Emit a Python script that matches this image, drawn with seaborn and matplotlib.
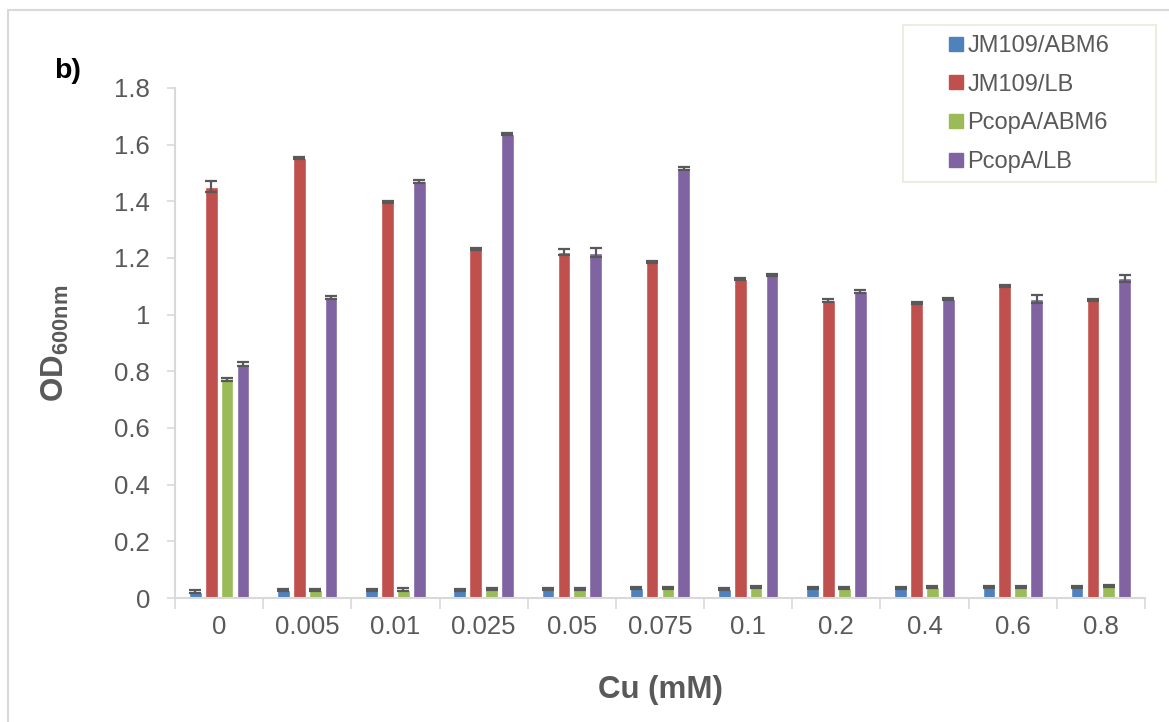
import numpy as np
import pandas as pd
import matplotlib
matplotlib.use("Agg")
import matplotlib.pyplot as plt
import seaborn as sns
from matplotlib.lines import Line2D
from matplotlib.patches import Rectangle

cu_levels = ["0", "0.005", "0.01", "0.025", "0.05", "0.075", "0.1", "0.2", "0.4", "0.6", "0.8"]
series_names = ["JM109/ABM6", "JM109/LB", "PcopA/ABM6", "PcopA/LB"]

jm109_abm6 = [0.022, 0.028, 0.028, 0.028, 0.033, 0.036, 0.032, 0.036, 0.036, 0.038, 0.038]
jm109_lb = [1.452, 1.552, 1.397, 1.232, 1.222, 1.185, 1.127, 1.050, 1.040, 1.100, 1.052]
pcopa_abm6 = [0.772, 0.029, 0.030, 0.033, 0.033, 0.035, 0.039, 0.036, 0.039, 0.039, 0.043]
pcopa_lb = [0.825, 1.060, 1.470, 1.637, 1.218, 1.515, 1.141, 1.082, 1.055, 1.056, 1.128]

jm109_abm6_err = [0.005, 0.004, 0.004, 0.004, 0.004, 0.004, 0.004, 0.004, 0.004, 0.003, 0.004]
jm109_lb_err = [0.018, 0.004, 0.004, 0.004, 0.010, 0.004, 0.004, 0.004, 0.003, 0.004, 0.004]
pcopa_abm6_err = [0.005, 0.004, 0.004, 0.004, 0.004, 0.004, 0.004, 0.004, 0.004, 0.004, 0.004]
pcopa_lb_err = [0.007, 0.005, 0.004, 0.004, 0.016, 0.005, 0.004, 0.005, 0.003, 0.014, 0.011]

colors = ["#4F81BD", "#C0504D", "#9BBB59", "#8064A2"]

values = [jm109_abm6, jm109_lb, pcopa_abm6, pcopa_lb]
errors = [jm109_abm6_err, jm109_lb_err, pcopa_abm6_err, pcopa_lb_err]

df = pd.DataFrame({
    "Cu": np.tile(cu_levels, len(series_names)),
    "OD": np.concatenate(values),
    "strain": np.repeat(series_names, len(cu_levels)),
})

sns.set_theme(style="white")
plt.rcParams["font.family"] = ["Liberation Sans", "DejaVu Sans"]
plt.rcParams["mathtext.fontset"] = "custom"
plt.rcParams["mathtext.rm"] = "Liberation Sans"
plt.rcParams["mathtext.bf"] = "Liberation Sans:bold"

gray = "#595959"
light = "#D9D9D9"

W, H = 1169, 722
fig = plt.figure(figsize=(W / 100, H / 100), dpi=100)
ax = fig.add_axes([175 / W, 1 - 598 / H, (1145 - 175) / W, (598 - 88) / H])

sns.barplot(data=df, x="Cu", y="OD", hue="strain", order=cu_levels,
            hue_order=series_names, palette=colors, errorbar=None,
            width=0.72, gap=0.2, saturation=1, ax=ax, legend=False)

for cont, err in zip(ax.containers, errors):
    xs = [b.get_x() + b.get_width() / 2 for b in cont]
    hs = [b.get_height() for b in cont]
    ax.errorbar(xs, hs, yerr=err, fmt="none", ecolor=gray, elinewidth=1.6,
                capsize=4, capthick=1.6, zorder=5)

ax.set_ylim(0, 1.8)
ax.set_xlim(-0.5, 10.5)
ax.set_yticks(np.arange(0, 1.81, 0.2))
ax.set_yticklabels(["0", "0.2", "0.4", "0.6", "0.8", "1", "1.2", "1.4", "1.6", "1.8"])
ax.set_xticks(range(len(cu_levels)))
ax.set_xticklabels(cu_levels)
ax.set_xticks(np.arange(-0.5, 10.6, 1.0), minor=True)

for s in ["top", "right"]:
    ax.spines[s].set_visible(False)
for s in ["left", "bottom"]:
    ax.spines[s].set_color(light)
    ax.spines[s].set_linewidth(1.5)

ax.tick_params(axis="y", which="major", left=True, length=6, width=1.2, color=light,
               labelsize=18.5, labelcolor=gray, pad=12)
ax.tick_params(axis="x", which="major", bottom=False, length=0, labelsize=18.5,
               labelcolor=gray, pad=12)
ax.tick_params(axis="x", which="minor", bottom=True, length=8, width=1.2, color=light)

ax.set_xlabel("Cu (mM)", fontsize=22.5, fontweight="bold", color=gray)
ax.xaxis.set_label_coords(0.5, (598 - 690) / (598 - 88), transform=ax.transAxes)
ax.xaxis.label.set_va("center")
ax.set_ylabel(r"$\mathbf{OD}_{\mathbf{600nm}}$", fontsize=22.5, color=gray)
ax.yaxis.set_label_coords((55 - 175) / (1145 - 175), 0.5, transform=ax.transAxes)
ax.yaxis.label.set_va("center")

fig.text(68 / W, 1 - 71 / H, "b)", fontsize=20.5, fontweight="bold",
         color="black", ha="center", va="center")

# legend
fig.add_artist(Rectangle((903 / W, 1 - 182 / H), (1156 - 903) / W, (182 - 25) / H,
                         transform=fig.transFigure, facecolor="white",
                         edgecolor="#EEECE1", linewidth=1.5))
handles = [Line2D([0], [0], marker="s", linestyle="none", markersize=9.5,
                  markerfacecolor=c, markeredgecolor=c) for c in colors]
leg = fig.legend(handles, series_names, loc="center left",
                 bbox_to_anchor=(944 / W, 1 - 104 / H), frameon=False,
                 fontsize=17, labelcolor=gray, handletextpad=0.0,
                 labelspacing=0.7, borderpad=0, handlelength=1.0,
                 borderaxespad=0)

# chart area border
fig.add_artist(Line2D([8 / W, 8 / W], [0, 1 - 10 / H], color=light, lw=1.5,
                      transform=fig.transFigure))
fig.add_artist(Line2D([8 / W, 1], [1 - 10 / H, 1 - 10 / H], color=light, lw=1.5,
                      transform=fig.transFigure))

fig.savefig("out.png", dpi=100)
